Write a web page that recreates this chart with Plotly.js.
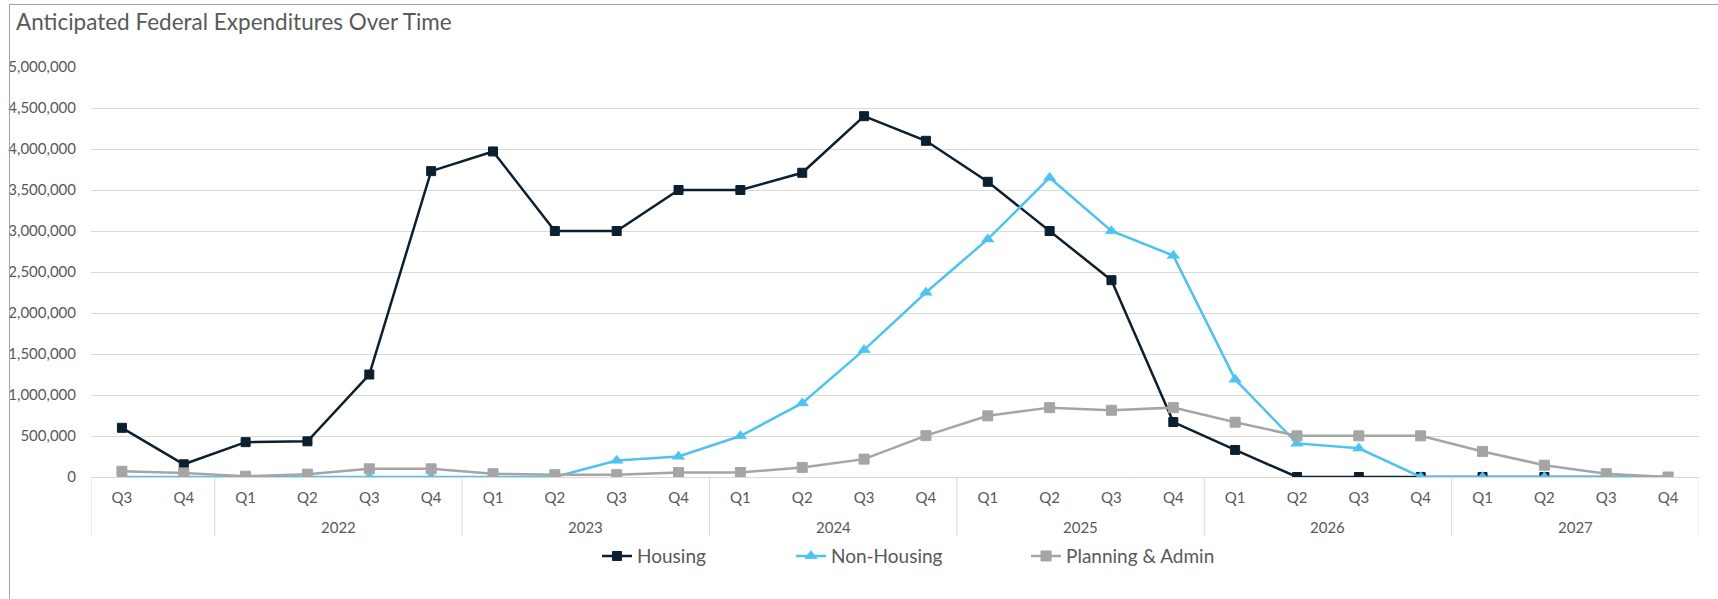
<!DOCTYPE html>
<html>
<head>
<meta charset="utf-8">
<script src="https://cdn.plot.ly/plotly-3.0.1.min.js"></script>
<style>
  html, body { margin: 0; padding: 0; background: #ffffff; overflow: hidden; }
  #chart { width: 1718px; height: 599px; }
  #frame { position: absolute; left: 9px; top: 4px; width: 1720px; height: 610px;
           border-left: 1px solid #a3a3a3; border-top: 1px solid #a3a3a3; pointer-events: none; }
</style>
</head>
<body>
<div id="chart"></div>
<div id="frame"></div>
<script>
const years = ["", "",
  "2022", "2022", "2022", "2022",
  "2023", "2023", "2023", "2023",
  "2024", "2024", "2024", "2024",
  "2025", "2025", "2025", "2025",
  "2026", "2026", "2026", "2026",
  "2027", "2027", "2027", "2027"];
const quarters = ["Q3", "Q4",
  "Q1", "Q2", "Q3", "Q4",
  "Q1", "Q2", "Q3", "Q4",
  "Q1", "Q2", "Q3", "Q4",
  "Q1", "Q2", "Q3", "Q4",
  "Q1", "Q2", "Q3", "Q4",
  "Q1", "Q2", "Q3", "Q4"];

const housing = [600000, 155000,
  425000, 435000, 1250000, 3730000,
  3970000, 3000000, 3000000, 3500000,
  3500000, 3710000, 4400000, 4100000,
  3600000, 3000000, 2400000, 670000,
  330000, 0, 0, 0,
  0, 0, 0, 0];
const nonHousing = [0, 0,
  0, 0, 0, 0,
  0, 0, 200000, 250000,
  500000, 900000, 1550000, 2250000,
  2900000, 3650000, 3000000, 2700000,
  1190000, 410000, 350000, 0,
  0, 0, 0, 0];
const planningAdmin = [70000, 50000,
  10000, 35000, 100000, 100000,
  40000, 28000, 28000, 55000,
  55000, 117000, 218000, 504000,
  746000, 846000, 814000, 846000,
  668000, 502000, 502000, 502000,
  312000, 144000, 40000, 0];

const seriesNames = ["Housing", "Non-Housing", "Planning & Admin"];
const chartTitle = "Anticipated Federal Expenditures Over Time";

const FONT = "Lato, 'Open Sans', sans-serif";
const TXT = "#595959";
const GRID = "#d9d9d9";
const C_H = "#0c1f2e", C_N = "#4fc3f0", C_P = "#a5a5a5";

// unique category keys, one per quarter
const keys = years.map((y, i) => (y || "pre") + " " + quarters[i]);

// year groups derived from the category arrays
const groupStarts = [], groupNames = [];
years.forEach((y, i) => { if (i === 0 || y !== years[i - 1]) { groupStarts.push(i); groupNames.push(y); } });
const groupEnds = groupStarts.slice(1).concat([years.length]);
const groupCenters = groupStarts.map((s, k) => (s + groupEnds[k] - 1) / 2);
const boundaries = groupStarts.map(s => s - 0.5).concat([years.length - 0.5]);
const fullRange = [-0.5, years.length - 0.5];

const traces = [
  { type: "scatter", mode: "lines+markers", name: seriesNames[0], x: keys, y: housing,
    line: { color: C_H, width: 2.5 },
    marker: { symbol: "square", size: 9, color: C_H, line: { color: C_H, width: 1 } },
    legend: "legend" },
  { type: "scatter", mode: "lines+markers", name: seriesNames[1], x: keys, y: nonHousing,
    line: { color: C_N, width: 2.5 },
    marker: { symbol: "triangle-up", size: 11, color: C_N, line: { color: C_N, width: 0.5 } },
    legend: "legend2" },
  { type: "scatter", mode: "lines+markers", name: seriesNames[2], x: keys, y: planningAdmin,
    line: { color: C_P, width: 2.5 },
    marker: { symbol: "square", size: 10, color: C_P, line: { color: C_P, width: 1 } },
    legend: "legend3" }
];

// year labels under the quarter labels, and group dividers
const yearAnnotations = groupCenters.map((c, k) => ({
  xref: "x", yref: "paper", x: c, y: -0.122, yanchor: "middle", xanchor: "center",
  text: groupNames[k], showarrow: false,
  font: { family: FONT, size: 15, color: TXT }
}));
const dividerShapes = boundaries.map(b => ({
  type: "line", xref: "x", yref: "paper", x0: b, x1: b, y0: 0, y1: -0.144,
  line: { color: GRID, width: 1 }, layer: "below"
}));

const legendBase = { orientation: "h", xanchor: "left", yanchor: "middle", y: -0.193,
  font: { family: FONT, size: 19, color: TXT }, bgcolor: "rgba(0,0,0,0)", borderwidth: 0 };

const layout = {
  width: 1718, height: 599,
  paper_bgcolor: "#ffffff", plot_bgcolor: "#ffffff",
  margin: { l: 91, r: 19, t: 67, b: 122, pad: 0 },
  font: { family: FONT, color: TXT },
  title: { text: chartTitle, xref: "container", yref: "container", x: 0.0093, xanchor: "left",
           y: 0.963, yanchor: "middle", font: { family: FONT, size: 22.5, color: TXT } },
  showlegend: true,
  legend: Object.assign({}, legendBase, { x: 0.3147 }),
  legend2: Object.assign({}, legendBase, { x: 0.4353 }),
  legend3: Object.assign({}, legendBase, { x: 0.5815 }),
  annotations: yearAnnotations,
  shapes: dividerShapes,
  xaxis: {
    type: "category", categoryorder: "array", categoryarray: keys,
    range: fullRange,
    tickmode: "array", tickvals: keys, ticktext: quarters,
    showgrid: false, zeroline: false,
    showline: true, linecolor: GRID, linewidth: 1,
    ticks: "", ticklabelstandoff: 7,
    tickfont: { family: FONT, size: 15, color: TXT },
    fixedrange: true
  },
  yaxis: {
    range: [0, 5000000], dtick: 500000, tick0: 0,
    tickformat: ",.0f",
    showgrid: true, gridcolor: GRID, gridwidth: 1,
    zeroline: false, showline: false, ticks: "",
    ticklabelstandoff: 14,
    tickfont: { family: FONT, size: 15, color: TXT },
    fixedrange: true
  }
};

Plotly.newPlot("chart", traces, layout, { staticPlot: true, displayModeBar: false });
</script>
</body>
</html>
